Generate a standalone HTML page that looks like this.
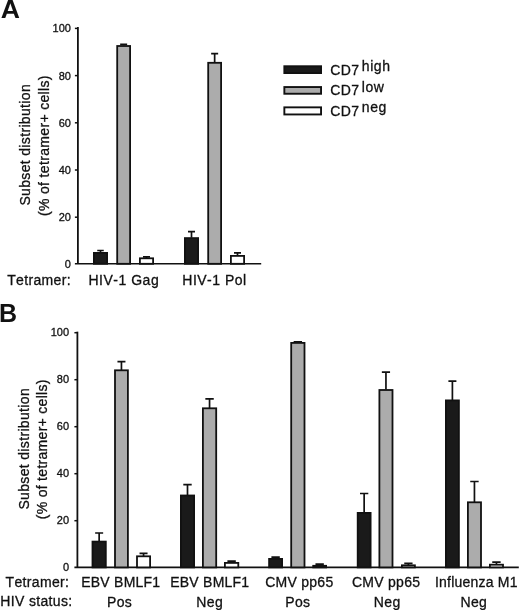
<!DOCTYPE html>
<html><head><meta charset="utf-8"><title>Figure</title>
<style>
html,body{margin:0;padding:0;background:#fff;}
body{width:520px;height:610px;overflow:hidden;}
text{stroke:#111;stroke-width:0.3px;}
svg{display:block;font-kerning:none;will-change:transform;font-family:"Liberation Sans",sans-serif;fill:#111;}
</style></head><body>
<svg width="520" height="610" viewBox="0 0 520 610">
<path d="M77.90 27.05V263.80" stroke="#111111" stroke-width="1.8" fill="none"/>
<path d="M74.90 263.80H261.20" stroke="#111111" stroke-width="1.6" fill="none"/>
<path d="M74.90 217.20H77.90" stroke="#111111" stroke-width="1.5" fill="none"/>
<path d="M74.90 170.00H77.90" stroke="#111111" stroke-width="1.5" fill="none"/>
<path d="M74.90 122.80H77.90" stroke="#111111" stroke-width="1.5" fill="none"/>
<path d="M74.90 75.60H77.90" stroke="#111111" stroke-width="1.5" fill="none"/>
<path d="M74.90 28.40H77.90" stroke="#111111" stroke-width="1.5" fill="none"/>
<text x="70.90" y="268.30" font-size="11" text-anchor="end">0</text>
<text x="70.90" y="221.10" font-size="11" text-anchor="end">20</text>
<text x="70.90" y="173.90" font-size="11" text-anchor="end">40</text>
<text x="70.90" y="126.70" font-size="11" text-anchor="end">60</text>
<text x="70.90" y="79.50" font-size="11" text-anchor="end">80</text>
<text x="70.90" y="32.30" font-size="11" text-anchor="end">100</text>
<text transform="translate(30.40 144.80) rotate(-90)" font-size="14" letter-spacing="0.34" text-anchor="middle">Subset distribution</text>
<text transform="translate(48.60 145.60) rotate(-90)" font-size="14" letter-spacing="0.34" text-anchor="middle">(% of tetramer+ cells)</text>
<path d="M100.50 252.50V250.50M97.25 250.50H103.75" stroke="#111111" stroke-width="1.7" fill="none"/>
<rect x="93.90" y="252.90" width="13.20" height="10.90" fill="#1a1a1a" stroke="#111111" stroke-width="1.8"/>
<path d="M123.65 45.60V44.30M120.15 44.30H127.15" stroke="#111111" stroke-width="1.7" fill="none"/>
<rect x="117.20" y="46.00" width="12.90" height="217.80" fill="#acacac" stroke="#111111" stroke-width="1.8"/>
<path d="M146.50 257.90V256.80M143.00 256.80H150.00" stroke="#111111" stroke-width="1.7" fill="none"/>
<rect x="139.90" y="258.30" width="13.20" height="5.50" fill="#ffffff" stroke="#111111" stroke-width="1.8"/>
<path d="M191.50 237.70V231.60M188.00 231.60H195.00" stroke="#111111" stroke-width="1.7" fill="none"/>
<rect x="184.90" y="238.10" width="13.20" height="25.70" fill="#1a1a1a" stroke="#111111" stroke-width="1.8"/>
<path d="M214.65 62.40V53.70M211.15 53.70H218.15" stroke="#111111" stroke-width="1.7" fill="none"/>
<rect x="208.20" y="62.80" width="12.90" height="201.00" fill="#acacac" stroke="#111111" stroke-width="1.8"/>
<path d="M237.50 255.50V252.90M234.00 252.90H241.00" stroke="#111111" stroke-width="1.7" fill="none"/>
<rect x="230.90" y="255.90" width="13.20" height="7.90" fill="#ffffff" stroke="#111111" stroke-width="1.8"/>
<text x="0.8" y="18.1" font-size="26.6" font-weight="bold" style="stroke:none">A</text>
<text x="7.2" y="285" font-size="14" letter-spacing="0.34">Tetramer:</text>
<text x="123.8" y="285" font-size="14" letter-spacing="0.52" text-anchor="middle">HIV-1 Gag</text>
<text x="214.5" y="285" font-size="14" letter-spacing="0.5" text-anchor="middle">HIV-1 Pol</text>
<rect x="284.35" y="66.25" width="36.70" height="6.80" fill="#1a1a1a" stroke="#111111" stroke-width="1.9"/>
<rect x="284.35" y="87.05" width="36.70" height="6.70" fill="#acacac" stroke="#111111" stroke-width="1.9"/>
<rect x="284.35" y="107.35" width="36.70" height="7.10" fill="#ffffff" stroke="#111111" stroke-width="1.9"/>
<text x="330.3" y="75.2" font-size="14" letter-spacing="0.34">CD7</text>
<text x="361.8" y="70.90" font-size="14" letter-spacing="0.55">high</text>
<text x="330.3" y="95.4" font-size="14" letter-spacing="0.34">CD7</text>
<text x="361.8" y="91.50" font-size="14" letter-spacing="0.55">low</text>
<text x="330.3" y="115.6" font-size="14" letter-spacing="0.34">CD7</text>
<text x="361.8" y="111.80" font-size="14" letter-spacing="0.55">neg</text>
<path d="M77.40 331.65V567.40" stroke="#111111" stroke-width="1.8" fill="none"/>
<path d="M74.40 567.40H518.80" stroke="#111111" stroke-width="1.6" fill="none"/>
<path d="M74.40 520.70H77.40" stroke="#111111" stroke-width="1.5" fill="none"/>
<path d="M74.40 473.70H77.40" stroke="#111111" stroke-width="1.5" fill="none"/>
<path d="M74.40 426.70H77.40" stroke="#111111" stroke-width="1.5" fill="none"/>
<path d="M74.40 379.70H77.40" stroke="#111111" stroke-width="1.5" fill="none"/>
<path d="M74.40 332.70H77.40" stroke="#111111" stroke-width="1.5" fill="none"/>
<text x="69.10" y="570.80" font-size="11" text-anchor="end">0</text>
<text x="69.10" y="523.80" font-size="11" text-anchor="end">20</text>
<text x="69.10" y="476.80" font-size="11" text-anchor="end">40</text>
<text x="69.10" y="429.80" font-size="11" text-anchor="end">60</text>
<text x="69.10" y="382.80" font-size="11" text-anchor="end">80</text>
<text x="69.10" y="335.80" font-size="11" text-anchor="end">100</text>
<text transform="translate(29.00 448.80) rotate(-90)" font-size="14" letter-spacing="0.34" text-anchor="middle">Subset distribution</text>
<text transform="translate(47.20 449.25) rotate(-90)" font-size="14" letter-spacing="0.3" text-anchor="middle">(% of tetramer+ cells)</text>
<path d="M99.15 541.20V533.00M95.15 533.00H103.15" stroke="#111111" stroke-width="1.7" fill="none"/>
<rect x="92.50" y="541.60" width="13.30" height="25.80" fill="#1a1a1a" stroke="#111111" stroke-width="1.8"/>
<path d="M121.45 369.90V361.60M117.45 361.60H125.45" stroke="#111111" stroke-width="1.7" fill="none"/>
<rect x="115.00" y="370.30" width="12.90" height="197.10" fill="#acacac" stroke="#111111" stroke-width="1.8"/>
<path d="M143.55 555.90V553.30M139.55 553.30H147.55" stroke="#111111" stroke-width="1.7" fill="none"/>
<rect x="137.00" y="556.30" width="13.10" height="11.10" fill="#ffffff" stroke="#111111" stroke-width="1.8"/>
<path d="M187.50 495.10V484.70M183.30 484.70H191.70" stroke="#111111" stroke-width="1.7" fill="none"/>
<rect x="180.90" y="495.50" width="13.20" height="71.90" fill="#1a1a1a" stroke="#111111" stroke-width="1.8"/>
<path d="M209.55 407.90V398.90M205.35 398.90H213.75" stroke="#111111" stroke-width="1.7" fill="none"/>
<rect x="202.90" y="408.30" width="13.30" height="159.10" fill="#acacac" stroke="#111111" stroke-width="1.8"/>
<path d="M231.60 562.50V561.10M227.40 561.10H235.80" stroke="#111111" stroke-width="1.7" fill="none"/>
<rect x="224.90" y="562.90" width="13.40" height="4.50" fill="#ffffff" stroke="#111111" stroke-width="1.8"/>
<path d="M275.60 558.50V557.20M271.40 557.20H279.80" stroke="#111111" stroke-width="1.7" fill="none"/>
<rect x="269.10" y="558.90" width="13.00" height="8.50" fill="#1a1a1a" stroke="#111111" stroke-width="1.8"/>
<path d="M297.85 342.50V341.90M293.65 341.90H302.05" stroke="#111111" stroke-width="1.7" fill="none"/>
<rect x="291.20" y="342.90" width="13.30" height="224.50" fill="#acacac" stroke="#111111" stroke-width="1.8"/>
<path d="M319.65 565.40V564.20M315.45 564.20H323.85" stroke="#111111" stroke-width="1.7" fill="none"/>
<rect x="313.20" y="565.80" width="12.90" height="1.60" fill="#ffffff" stroke="#111111" stroke-width="1.8"/>
<path d="M364.15 512.50V493.50M360.00 493.50H368.30" stroke="#111111" stroke-width="1.7" fill="none"/>
<rect x="357.70" y="512.90" width="12.90" height="54.50" fill="#1a1a1a" stroke="#111111" stroke-width="1.8"/>
<path d="M385.95 389.60V372.10M381.85 372.10H390.05" stroke="#111111" stroke-width="1.7" fill="none"/>
<rect x="379.40" y="390.00" width="13.10" height="177.40" fill="#acacac" stroke="#111111" stroke-width="1.8"/>
<path d="M408.40 564.90V563.30M404.25 563.30H412.55" stroke="#111111" stroke-width="1.7" fill="none"/>
<rect x="401.90" y="565.30" width="13.00" height="2.10" fill="#ffffff" stroke="#111111" stroke-width="1.8"/>
<path d="M452.40 400.00V381.10M448.40 381.10H456.40" stroke="#111111" stroke-width="1.7" fill="none"/>
<rect x="445.90" y="400.40" width="13.00" height="167.00" fill="#1a1a1a" stroke="#111111" stroke-width="1.8"/>
<path d="M474.45 501.90V481.50M470.25 481.50H478.65" stroke="#111111" stroke-width="1.7" fill="none"/>
<rect x="467.90" y="502.30" width="13.10" height="65.10" fill="#acacac" stroke="#111111" stroke-width="1.8"/>
<path d="M496.45 564.30V562.20M492.25 562.20H500.65" stroke="#111111" stroke-width="1.7" fill="none"/>
<rect x="489.90" y="564.70" width="13.10" height="2.70" fill="#ffffff" stroke="#111111" stroke-width="1.8"/>
<text x="-0.9" y="322.2" font-size="25" font-weight="bold" style="stroke:none">B</text>
<text x="5.6" y="587.3" font-size="14" letter-spacing="0.34">Tetramer:</text>
<text x="0.3" y="606.3" font-size="14" letter-spacing="0.34">HIV status:</text>
<text x="120.8" y="587.3" font-size="14" letter-spacing="0.24" text-anchor="middle">EBV BMLF1</text>
<text x="209.8" y="587.3" font-size="14" letter-spacing="0.24" text-anchor="middle">EBV BMLF1</text>
<text x="299.3" y="587.3" font-size="14" letter-spacing="0.27" text-anchor="middle">CMV pp65</text>
<text x="386.1" y="587.3" font-size="14" letter-spacing="0.27" text-anchor="middle">CMV pp65</text>
<text x="476.3" y="587.3" font-size="14" letter-spacing="0.21" text-anchor="middle">Influenza M1</text>
<text x="119.6" y="606.5" font-size="14" letter-spacing="0.34" text-anchor="middle">Pos</text>
<text x="209.7" y="606.5" font-size="14" letter-spacing="0.34" text-anchor="middle">Neg</text>
<text x="297.9" y="606.5" font-size="14" letter-spacing="0.34" text-anchor="middle">Pos</text>
<text x="387.2" y="606.5" font-size="14" letter-spacing="0.34" text-anchor="middle">Neg</text>
<text x="473.8" y="606.5" font-size="14" letter-spacing="0.34" text-anchor="middle">Neg</text>
</svg>
</body></html>
